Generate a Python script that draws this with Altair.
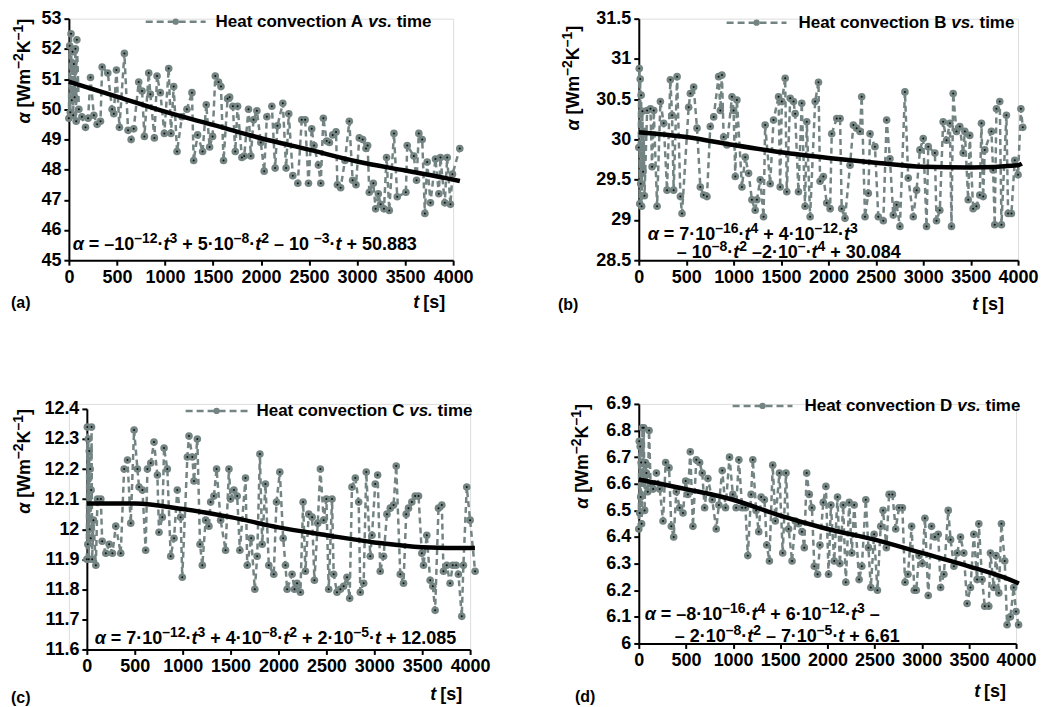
import altair as alt
import pandas as pd

GRAY = "#738482"
FONT = "Liberation Sans"

X_TICKS = [0, 500, 1000, 1500, 2000, 2500, 3000, 3500, 4000]

# ---------------- Panel A ----------------
A_T = [0, 8, 15, 22, 30, 38, 45, 52, 60, 68, 76, 83,
       104, 135, 173, 200, 225, 260, 294, 329, 346,
       405, 450, 468, 495, 526, 578, 616, 648, 675,
       727, 762, 786, 831, 848, 890, 918, 952, 994,
       1039, 1063, 1091, 1126, 1177, 1229, 1281, 1299, 1340,
       1392, 1430, 1465, 1496, 1524, 1558, 1583, 1610, 1652,
       1673, 1707, 1732, 1756, 1801, 1825, 1870, 1894, 1922,
       1957, 1998, 2033, 2061, 2113, 2147, 2171, 2227, 2261,
       2289, 2331, 2383, 2424, 2459, 2494, 2528, 2552, 2597,
       2622, 2649, 2684, 2712, 2746, 2781, 2795, 2829, 2874,
       2919, 2954, 2989, 3023, 3058, 3093, 3110, 3127, 3169,
       3193, 3221, 3245, 3280, 3307, 3335, 3384, 3418, 3508,
       3522, 3591, 3619, 3643, 3678, 3706, 3730, 3764, 3816,
       3851, 3868, 3913, 3938, 3972, 3993, 4069]
A_V = [49.7, 52.1, 49.9, 52.5, 50.3, 51.9, 49.8, 51.5, 50.4, 52.0, 49.6, 52.3,
       50.0, 49.75, 49.4, 49.7, 51.05, 49.8, 49.5, 49.6, 51.4,
       51.2, 50.0, 49.85, 51.3, 49.4, 51.85, 49.3, 49.0, 49.35,
       50.9, 50.6, 49.1, 51.2, 50.5, 49.05, 51.1, 50.55, 49.2,
       51.35, 49.2, 50.75, 48.6, 49.75, 50.0, 50.55, 48.3, 49.15,
       48.6, 50.15, 48.75, 49.1, 51.1, 50.9, 50.75, 48.3, 50.35,
       50.4, 50.1, 48.6, 50.1, 48.4, 48.45, 50.0, 48.45, 49.65,
       49.95, 48.9, 47.95, 49.75, 50.1, 48.05, 49.45, 50.2, 48.05,
       49.85, 47.8, 47.55, 49.65, 49.65, 47.55, 49.35, 48.8, 48.15,
       47.55, 49.7, 48.95, 48.9, 49.15, 49.25, 47.5, 47.4, 48.3,
       49.6, 47.65, 47.5, 49.05, 49.0, 48.7, 48.8, 47.25, 47.55,
       46.7, 47.2, 46.85, 46.7, 48.4, 46.65, 49.2, 47.1, 47.25,
       48.8, 48.45, 47.65, 49.2, 49.0, 46.55, 48.25, 46.9, 48.35,
       47.2, 48.4, 46.9, 48.4, 46.85, 47.85, 48.7]
A_TREND_T = [0, 500, 1000, 1500, 2000, 2500, 3000, 3500, 4000, 4070]
A_TREND_V = [50.91, 50.42, 49.92, 49.48, 49.04, 48.66, 48.27, 47.97, 47.67, 47.62]
A_Y_TICKS = [45, 46, 47, 48, 49, 50, 51, 52, 53]

# ---------------- Panel B ----------------
B_T = [0, 5, 10, 15, 20, 25, 30, 38, 45, 52, 60,
       88, 123, 140, 158, 193, 228, 263, 298, 333, 351,
       368, 404, 439, 456, 526, 544, 579, 614, 649, 684,
       719, 754, 790, 842, 860, 877, 895, 930, 983, 1000,
       1018, 1035, 1088, 1123, 1158, 1193, 1228, 1246, 1281, 1316,
       1333, 1386, 1421, 1474, 1491, 1509, 1544, 1561, 1597, 1632,
       1649, 1684, 1719, 1754, 1772, 1807, 1860, 1895, 1912, 1947,
       1982, 2018, 2035, 2088, 2123, 2140, 2175, 2228, 2263, 2298,
       2333, 2351, 2386, 2421, 2439, 2491, 2526, 2579, 2614, 2649,
       2684, 2719, 2754, 2807, 2842, 2895, 2930, 2965, 3000, 3035,
       3053, 3123, 3140, 3175, 3210, 3246, 3281, 3298, 3316, 3351,
       3386, 3421, 3439, 3474, 3491, 3526, 3561, 3596, 3614, 3632,
       3649, 3719, 3737, 3754, 3772, 3807, 3825, 3877, 3895, 3930,
       3965, 4000, 4030, 4050]
B_V = [29.9, 30.88, 29.2, 30.75, 29.45, 30.55, 29.17, 30.35, 29.6, 30.1, 29.3,
       30.36, 30.38, 29.66, 30.36, 29.17, 30.47, 30.2, 29.37, 30.74, 30.3,
       29.37, 30.78, 29.29, 29.08, 30.4, 30.57, 30.65, 30.14, 29.41, 29.31,
       29.29, 30.16, 30.28, 30.78, 30.36, 30.8, 30.03, 29.93, 30.53, 30.36,
       29.54, 30.49, 29.41, 29.78, 29.58, 29.25, 29.12, 29.25, 29.5, 29.04,
       30.18, 29.45, 30.24, 30.53, 29.41, 30.47, 30.76, 29.35, 30.51, 30.47,
       30.32, 29.35, 30.45, 29.17, 30.22, 29.04, 30.47, 30.71, 29.48, 29.54,
       29.21, 29.14, 30.07, 30.26, 30.26, 29.14, 29.02, 29.68, 30.18, 30.14,
       30.1, 30.53, 29.04, 29.33, 30.07, 29.91, 29.04, 28.99, 30.24, 29.76,
       29.06, 29.19, 28.92, 30.59, 29.52, 29.04, 29.37, 29.87, 30.01, 28.92,
       29.91, 29.83, 28.99, 29.12, 30.22, 29.99, 30.2, 28.92, 30.57, 30.1,
       30.16, 29.83, 30.1, 29.25, 30.05, 29.14, 29.17, 29.31, 30.2, 29.29,
       29.87, 30.1, 29.62, 28.94, 30.38, 30.47, 28.94, 30.3, 29.08, 29.08,
       29.74, 29.56, 30.38, 30.15]
B_TREND_T = [0, 500, 1000, 1500, 2000, 2500, 3000, 3500, 4000, 4040]
B_TREND_V = [30.09, 30.03, 29.93, 29.84, 29.77, 29.71, 29.66, 29.65, 29.68, 29.7]
B_Y_TICKS = [28.5, 29, 29.5, 30, 30.5, 31, 31.5]

# ---------------- Panel C ----------------
C_T = [0, 5, 10, 15, 20, 25, 30, 35, 40, 45, 49, 55,
       69, 94, 111, 146, 160, 198, 233, 267, 302, 354,
       389, 424, 458, 493, 528, 545, 580, 614, 632, 667,
       701, 736, 753, 788, 806, 840, 875, 910, 944, 979,
       996, 1049, 1066, 1101, 1118, 1153, 1181, 1205, 1240, 1274,
       1292, 1326, 1354, 1396, 1448, 1483, 1500, 1535, 1569, 1597,
       1656, 1674, 1715, 1753, 1778, 1806, 1830, 1864, 1899, 1951,
       1979, 2014, 2049, 2073, 2090, 2142, 2167, 2194, 2229, 2257,
       2281, 2316, 2351, 2375, 2410, 2437, 2472, 2500, 2524, 2559,
       2576, 2611, 2646, 2680, 2715, 2743, 2767, 2802, 2837, 2854,
       2889, 2916, 2958, 2976, 3010, 3035, 3062, 3097, 3132, 3167,
       3201, 3229, 3271, 3305, 3333, 3357, 3392, 3427, 3462, 3496,
       3514, 3548, 3583, 3611, 3635, 3670, 3705, 3722, 3757, 3791,
       3819, 3854, 3878, 3913, 3930, 3965, 4000, 4052]
C_V = [11.9, 12.34, 11.95, 12.3, 11.9, 12.26, 12.0, 12.2, 11.97, 12.13, 12.34, 11.9,
       12.03, 11.88, 12.1, 12.1, 11.96, 11.92, 11.95, 11.92, 12.01, 11.92,
       12.2, 12.23, 12.02, 12.33, 12.2, 12.14, 12.13, 11.93, 12.2, 12.22,
       12.29, 12.18, 11.99, 12.04, 12.27, 12.2, 11.91, 11.97, 12.13, 12.04,
       11.84, 12.24, 12.31, 12.24, 12.16, 12.3, 11.95, 11.88, 12.03, 12.01,
       12.09, 12.11, 12.2, 12.03, 11.93, 12.2, 12.1, 12.13, 12.11, 11.93,
       12.17, 11.88, 11.97, 11.8, 11.91, 12.25, 11.95, 12.15, 11.88, 11.85,
       12.09, 12.19, 11.97, 11.88, 11.8, 11.85, 11.8, 11.82, 11.79, 12.09,
       11.86, 12.05, 12.04, 11.83, 12.02, 12.2, 12.03, 12.1, 11.8, 12.1,
       11.85, 11.79, 11.8, 11.81, 11.84, 11.77, 12.14, 12.17, 12.09, 11.79,
       11.82, 12.19, 11.91, 11.98, 12.15, 12.18, 11.86, 11.91, 12.05, 12.07,
       12.08, 12.21, 11.85, 11.82, 12.05, 12.07, 12.09, 12.11, 12.11, 11.92,
       11.88, 11.98, 11.83, 11.81, 11.73, 12.07, 12.08, 11.86, 11.88, 11.82,
       11.88, 11.88, 11.85, 11.71, 11.88, 12.14, 12.03, 11.86]
C_TREND_T = [0, 500, 1000, 1500, 2000, 2500, 3000, 3500, 4000, 4050]
C_TREND_V = [12.085, 12.085, 12.067, 12.04, 12.006, 11.98, 11.956, 11.94, 11.937, 11.937]
C_Y_TICKS = [11.6, 11.7, 11.8, 11.9, 12.0, 12.1, 12.2, 12.3, 12.4]

# ---------------- Panel D ----------------
D_T = [0, 5, 10, 15, 20, 25, 30, 39, 46, 53, 62, 70, 81, 95, 109, 125,
       152, 187, 222, 257, 285, 321, 345, 370, 398, 433,
       469, 497, 521, 546, 574, 610, 645, 673, 698, 733,
       779, 821, 849, 885, 920, 962, 997, 1032, 1061, 1096,
       1131, 1156, 1191, 1209, 1244, 1272, 1297, 1332, 1357, 1385,
       1420, 1448, 1491, 1526, 1561, 1589, 1625, 1660, 1695, 1730,
       1755, 1780, 1808, 1836, 1861, 1896, 1921, 1956, 1984, 2012,
       2037, 2072, 2107, 2132, 2167, 2195, 2231, 2259, 2284, 2336,
       2365, 2407, 2435, 2460, 2495, 2530, 2565, 2590, 2625, 2654,
       2689, 2724, 2759, 2795, 2823, 2854, 2893, 2921, 2942, 2971,
       3006, 3034, 3069, 3104, 3140, 3175, 3200, 3235, 3281, 3306,
       3341, 3376, 3411, 3446, 3481, 3517, 3552, 3587, 3605, 3640,
       3668, 3711, 3728, 3764, 3788, 3817, 3845, 3880, 3905, 3940,
       3975, 4000, 4027]
D_V = [6.43, 6.76, 6.49, 6.74, 6.55, 6.68, 6.45, 6.81, 6.61, 6.81, 6.5, 6.68, 6.64, 6.57, 6.8, 6.6,
       6.58, 6.64, 6.58, 6.46, 6.68, 6.66, 6.44, 6.4, 6.57, 6.51,
       6.49, 6.61, 6.56, 6.72, 6.44, 6.69, 6.68, 6.64, 6.51, 6.62,
       6.54, 6.43, 6.52, 6.65, 6.51, 6.7, 6.56, 6.51, 6.69, 6.51,
       6.51, 6.33, 6.56, 6.69, 6.5, 6.42, 6.55, 6.54, 6.37, 6.31,
       6.67, 6.46, 6.64, 6.34, 6.64, 6.43, 6.31, 6.46, 6.45, 6.42,
       6.36, 6.64, 6.56, 6.51, 6.29, 6.26, 6.37, 6.53, 6.59, 6.26,
       6.52, 6.31, 6.55, 6.3, 6.52, 6.23, 6.53, 6.34, 6.52, 6.24,
       6.29, 6.54, 6.36, 6.21, 6.41, 6.2, 6.44, 6.5, 6.36, 6.56,
       6.56, 6.43, 6.51, 6.51, 6.23, 6.26, 6.44, 6.2, 6.2, 6.33,
       6.3, 6.47, 6.18, 6.44, 6.4, 6.41, 6.21, 6.26, 6.5, 6.39,
       6.29, 6.34, 6.4, 6.34, 6.15, 6.21, 6.41, 6.24, 6.45, 6.24,
       6.14, 6.14, 6.34, 6.21, 6.33, 6.19, 6.45, 6.31, 6.07, 6.1,
       6.21, 6.12, 6.07]
D_TREND_T = [0, 500, 1000, 1500, 2000, 2500, 3000, 3500, 4000, 4030]
D_TREND_V = [6.616, 6.58, 6.54, 6.48, 6.43, 6.39, 6.34, 6.29, 6.23, 6.225]
D_Y_TICKS = [6.0, 6.1, 6.2, 6.3, 6.4, 6.5, 6.6, 6.7, 6.8, 6.9]

# Texts: {...} = superscript; α and t are set in italics
Y_TITLE = "α [Wm{–2}K{–1}]"
EQ_A = ["α = –10{–12}·t{3} + 5·10{–8}·t{2} –  10{–3}·t + 50.883"]
EQ_B = ["α = 7·10{–16}·t{4} + 4·10{–12}·t{3}", "– 10{–8}·t{2} –2·10{–}·t{4} + 30.084"]
EQ_C = ["α = 7·10{–12}·t{3} + 4·10{–8}·t{2} + 2·10{–5}·t + 12.085"]
EQ_D = ["α = –8·10{–16}·t{4} + 6·10{–12}·t{3} –", "– 2·10{–8}·t{2} – 7·10{–5}·t + 6.61"]

# advance widths (em) of the bold sans face, used to place text runs
ADV = {" ": 0.278, "=": 0.584, "+": 0.584, "–": 0.556, "·": 0.333, "t": 0.333,
       "α": 0.61, ".": 0.278, "[": 0.333, "]": 0.333, "W": 0.944, "m": 0.889,
       "K": 0.722}


def adv(s, size):
    return sum(ADV.get(c, 0.556) for c in s) * size


def runs_of(s):
    runs, buf, i = [], "", 0
    while i < len(s):
        c = s[i]
        if c == "{":
            j = s.index("}", i)
            if buf:
                runs.append((buf, "n"))
                buf = ""
            runs.append((s[i + 1:j], "s"))
            i = j + 1
            continue
        if c in "αt":
            if buf:
                runs.append((buf, "n"))
                buf = ""
            runs.append((c, "i"))
        else:
            buf += c
        i += 1
    if buf:
        runs.append((buf, "n"))
    return runs


def mk_text(s, x, y, size, style="normal", align="left", baseline="middle", angle=0):
    return alt.Chart(pd.DataFrame({"s": [s]})).mark_text(
        align=align, baseline=baseline, font=FONT, fontSize=size,
        fontWeight="bold", fontStyle=style, color="black", angle=angle
    ).encode(text="s:N", x=alt.value(x), y=alt.value(y))


def rich(s, x, ymid, base=18, sup=14, rise=7, vertical=False):
    """Rich text. Horizontal: starts at x, centred on ymid.
    Vertical (reads upward): x = centre line, ymid = bottom start."""
    out = []
    pos = 0.0
    for text, kind in runs_of(s):
        size = sup if kind == "s" else base
        style = "italic" if kind == "i" else "normal"
        lead = adv(text[: len(text) - len(text.lstrip(" "))], size)
        body = text.strip(" ")
        r = rise if kind == "s" else 0
        if body:
            if not vertical:
                bx, by = x + pos + lead, ymid + 0.36 * base - r
                out.append(mk_text(body, bx, by, size, style, baseline="alphabetic"))
            else:
                bx, by = x + 0.36 * base - r, ymid - pos - lead
                out.append(mk_text(body, bx, by, size, style, baseline="alphabetic", angle=270))
        pos += adv(text, size)
    return out


def panel(T, V, TT, TV, ydom, yticks, pw, ph, ox, oy, letter, eq, eq_pos,
          tag, tag_pos, leg, xt, yt):
    """pw/ph: plot-area size; ox/oy: plot-area offset inside the panel cell."""
    W, H = ox + pw, oy + ph
    df = pd.DataFrame({"t": T, "a": V})
    tr = pd.DataFrame({"t": TT, "a": TV})
    xs = alt.Scale(domain=[0, 4000], range=[ox, ox + pw], nice=False, zero=False)
    ys = alt.Scale(domain=ydom, range=[oy + ph, oy], nice=False, zero=False)
    axis_common = dict(
        grid=False, domainColor="black", domainWidth=2, tickColor="black",
        tickWidth=2, tickSize=5, labelFont=FONT, labelFontSize=18,
        labelFontWeight="bold", labelColor="black", labelOverlap=False,
        labelFlush=False, title=None, labelPadding=3,
    )
    xax = alt.Axis(values=X_TICKS, format="d", **axis_common)
    ykw = dict(values=yticks, format="~g", **axis_common)
    if ox:
        ykw["offset"] = -ox
    yax = alt.Axis(**ykw)
    X = alt.X("t:Q", scale=xs, axis=xax)
    Y = alt.Y("a:Q", scale=ys, axis=yax)

    base = alt.Chart(df).encode(x=X, y=Y)
    line = base.mark_line(color=GRAY, strokeWidth=2.5, strokeDash=[6, 4])
    pts = base.mark_point(shape="circle", filled=True, size=58, color=GRAY, opacity=1)
    dots = base.mark_point(shape="circle", filled=True, size=4, color="#111111", opacity=1)
    trend = alt.Chart(tr).mark_line(color="black", strokeWidth=4.5,
                                    interpolate="monotone").encode(x=X, y=Y)

    # legend (drawn as marks)
    l0, l1, ly, lt = leg
    l0, l1, ly, lt = l0 + ox, l1 + ox, ly + oy, lt + ox
    lg_line = alt.Chart(pd.DataFrame({"k": [0]})).mark_rule(
        color=GRAY, strokeWidth=2.5, strokeDash=[7, 4]
    ).encode(x=alt.value(l0), x2=alt.value(l1), y=alt.value(ly))
    lg_pt = alt.Chart(pd.DataFrame({"k": [0]})).mark_point(
        shape="circle", filled=True, size=40, color=GRAY, opacity=1
    ).encode(x=alt.value((l0 + l1) / 2), y=alt.value(ly))
    w1 = 9.002 * 17
    w2 = 1.390 * 17
    sp = 0.278 * 17
    layers = [line, pts, dots, trend, lg_line, lg_pt,
              mk_text(f"Heat convection {letter}", lt, ly, 17),
              mk_text("vs.", lt + w1, ly, 17, style="italic"),
              mk_text("time", lt + w1 + w2 + sp, ly, 17)]
    for i, s in enumerate(eq):
        ex, ey = eq_pos[i]
        layers += rich(s, ex + ox, ey + oy)
    layers.append(mk_text(tag, tag_pos[0] + ox, tag_pos[1] + oy, 16))
    # x title: italic t + [s]
    layers.append(mk_text("[s]", xt[0] + ox, xt[1] + oy, 18, align="right"))
    layers.append(mk_text("t", xt[0] + ox - 26, xt[1] + oy, 18, style="italic", align="right"))
    # y title, rotated, top-anchored
    ylen = sum(adv(t_, 14 if k == "s" else 18) for t_, k in runs_of(Y_TITLE))
    layers += rich(Y_TITLE, yt[0] + ox, yt[1] + oy + ylen, vertical=True)

    return alt.layer(*layers).properties(width=W, height=H)


pA = panel(A_T, A_V, A_TREND_T, A_TREND_V, [45, 53], A_Y_TICKS, 385, 242, 0, 0, "A",
           EQ_A, [(4, 225)], "(a)", (-58, 285), (77, 137, 3, 147), (377, 285), (-45, 0))
pB = panel(B_T, B_V, B_TREND_T, B_TREND_V, [28.5, 31.5], B_Y_TICKS, 380, 242, 0, 0, "B",
           EQ_B, [(9, 215), (38, 233)], "(b)", (-81, 287), (88, 148, 4, 160), (366, 287), (-66, 7))
pC = panel(C_T, C_V, C_TREND_T, C_TREND_V, [11.6, 12.4], C_Y_TICKS, 384, 241, 18, 5, "C",
           EQ_C, [(8, 229)], "(c)", (-76, 290), (99, 161, 2, 170), (376, 287), (-63, 0))
pD = panel(D_T, D_V, D_TREND_T, D_TREND_V, [6.0, 6.9], D_Y_TICKS, 378, 240, 0, 0, "D",
           EQ_D, [(6, 210), (36, 232)], "(d)", (-64, 294), (94, 154, 2, 166), (368, 289), (-57, 0))

chart = alt.concat(
    pA, pB, pC, pD, columns=2,
    spacing={"row": 144, "column": 169}, bounds="flush"
).properties(
    padding={"left": 2, "top": 0, "right": 5, "bottom": 5}
).configure_view(stroke=None).configure(background="white")

chart.save("out.html", embed_options={"renderer": "svg", "actions": False})
